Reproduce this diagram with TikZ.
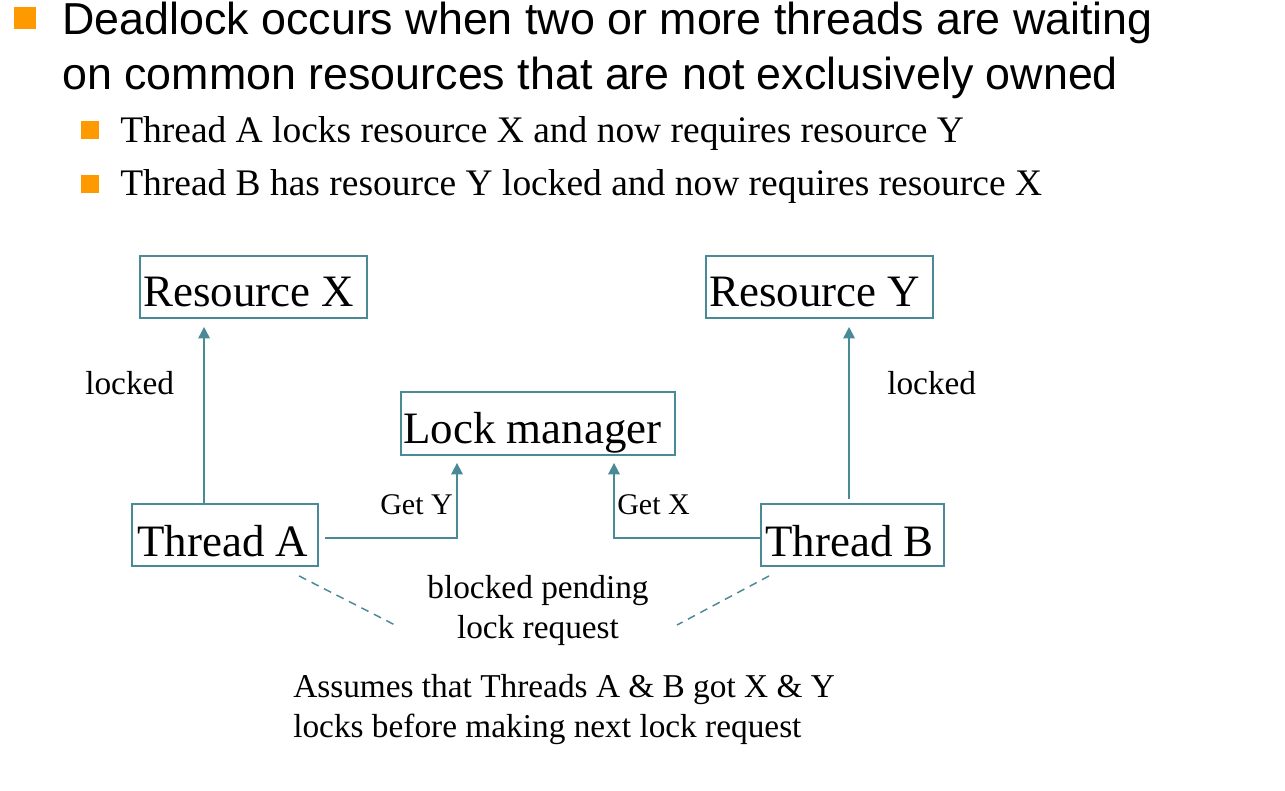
\documentclass[tikz,border=0pt]{standalone}
\usepackage{fontspec}
\setmainfont{Liberation Serif}
\newfontfamily\headfont{Liberation Sans}
\usetikzlibrary{arrows.meta}
\definecolor{tealc}{HTML}{4A8A97}
\definecolor{orng}{HTML}{FF9900}
\begin{document}
\begin{tikzpicture}[x=0.75pt,y=-0.75pt,
  box/.style={draw=tealc,line width=1.4pt,inner sep=0pt},
  btext/.style={anchor=base west,inner sep=0pt,font=\fontsize{33.7}{36}\selectfont},
  hbul/.style={fill=orng,inner sep=0pt,minimum size=16.5pt},
  sbul/.style={fill=orng,inner sep=0pt,minimum size=14pt},
  htext/.style={anchor=base west,inner sep=0pt,font=\headfont\fontsize{33.6}{36}\selectfont},
  stext/.style={anchor=base west,inner sep=0pt,font=\fontsize{28.1}{32}\selectfont},
  lbl/.style={anchor=base west,inner sep=0pt,font=\fontsize{25}{30}\selectfont},
  glbl/.style={anchor=base west,inner sep=0pt,font=\fontsize{22.5}{26}\selectfont},
  arr/.style={draw=tealc,line width=1.4pt,-{Triangle[length=8.5pt,width=8.5pt]}},
  dsh/.style={draw=tealc,line width=1.1pt,dash pattern=on 6pt off 4.5pt}
]
\useasboundingbox (0,0) rectangle (1285,791);
% bullets and heading text
\node[hbul] (b0) at (24.5,18) {};
\node[htext] (h1) at (62,35) {Deadlock occurs when two or more threads are waiting};
\node[htext] (h2) at (62,90) {on common resources that are not exclusively owned};
\node[sbul] (b1) at (90,130) {};
\node[stext] (s1) at (120,143) {Thread A locks resource X and now requires resource Y};
\node[sbul] (b2) at (90,184) {};
\node[stext] (s2) at (120,196) {Thread B has resource Y locked and now requires resource X};
% boxes
\node[box,minimum width=170.25pt,minimum height=46.5pt] (rX) at (253.5,287) {};
\node[box,minimum width=170.25pt,minimum height=46.5pt] (rY) at (819.5,287) {};
\node[box,minimum width=205.5pt,minimum height=47.25pt] (lm) at (538,423.5) {};
\node[box,minimum width=139.5pt,minimum height=46.5pt] (tA) at (225,535) {};
\node[box,minimum width=137.25pt,minimum height=46.5pt] (tB) at (852.5,535) {};
\node[btext] (rXt) at (143,307) {Resource X};
\node[btext] (rYt) at (709,307) {Resource Y};
\node[btext] (lmt) at (403,444) {Lock manager};
\node[btext] (tAt) at (137,556) {Thread A};
\node[btext] (tBt) at (765,556) {Thread B};
% labels
\node[lbl] (lk1) at (85,395) {locked};
\node[lbl] (lk2) at (887,395) {locked};
\node[glbl] (gy) at (380,514) {Get Y};
\node[glbl] (gx) at (617,514) {Get X};
\node[lbl,anchor=base,align=center] (blk) at (538,638) {blocked pending\\lock request};
\node[lbl,align=left,anchor=base west] (as1) at (293,697) {Assumes that Threads A \& B got X \& Y};
\node[lbl,align=left,anchor=base west] (as2) at (293,737) {locks before making next lock request};
% connectors
\draw[arr] ([shift={(73,0)}]tA.north west) -- ([shift={(65,8)}]rX.south west);
\draw[arr] ([shift={(89,-4)}]tB.north west) -- ([shift={(144,8)}]rY.south west);
\draw[arr] ([shift={(6,3)}]tA.east) -| ([shift={(-81,7)}]lm.south);
\draw[arr] ([shift={(0,3)}]tB.west) -| ([shift={(76,7)}]lm.south);
\draw[dsh] ([shift={(168,9)}]tA.south west) -- ([shift={(-143,-13)}]blk.base);
\draw[dsh] ([shift={(9,9)}]tB.south west) -- ([shift={(139,-13)}]blk.base);
\end{tikzpicture}
\end{document}
